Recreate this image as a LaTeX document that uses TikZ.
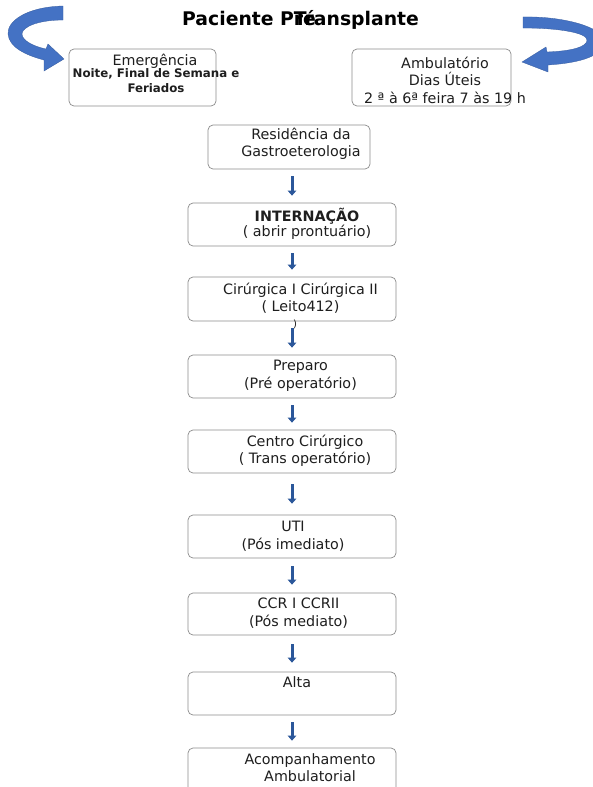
\documentclass[tikz,border=0pt]{standalone}
\usepackage{fontspec}
\setmainfont{DejaVu Sans}
\usetikzlibrary{arrows.meta,positioning,calc}
\definecolor{colborda}{HTML}{8C8C8C}
\definecolor{colseta}{HTML}{2B579A}
\definecolor{colcurva}{HTML}{4472C4}
\definecolor{coltexto}{HTML}{1E1E1E}
\newcommand{\corpo}{\fontsize{14.3}{17.5}\selectfont}

\begin{document}
\begin{tikzpicture}[x=1pt,y=-1pt,
  caixa/.style={draw=colborda,line width=0.7pt,rounded corners=5pt,fill=white,
    minimum width=208pt,minimum height=43pt,inner sep=0pt},
  txt/.style={font=\corpo,text=coltexto,align=center,inner sep=0pt},
  miudo/.style={font=\fontsize{11.8}{15}\selectfont\bfseries,text=coltexto,
    align=center,inner sep=0pt},
  titulo/.style={font=\fontsize{18.8}{22}\selectfont\bfseries,text=black,inner sep=0pt},
  seta/.style={-{Triangle[length=5pt,width=8.5pt]},line width=3pt,colseta,
    shorten <=7pt,shorten >=7pt},
  curva/.style={fill=colcurva,draw=colcurva!80!black,line width=0.3pt},
]
  \useasboundingbox (0,0) rectangle (593,787);
  \clip (0,0) rectangle (593,787);

  % titulo: as duas palavras ficam sobrepostas como no original
  \node[titulo,anchor=base west] (tit) at (182,25) {Paciente Pré};
  \node[titulo,anchor=base west] (tit2) at (182,25) {\phantom{Paciente P}Transplante};

  % setas curvas
  \path[curva] (63,6) .. controls (25,7) and (7,22) .. (8,34)
    .. controls (9,47) and (25,55) .. (44,60) -- (44,71) -- (64,59) -- (48,44)
    -- (46,49) .. controls (32,46) and (22,40) .. (22,34)
    .. controls (22,27) and (38,20) .. (63,20) -- cycle;
  \path[curva] (523,17) .. controls (565,16) and (604,28) .. (604,41)
    .. controls (604,56) and (580,63) .. (548,65) -- (548,72) -- (522,62) -- (546,47)
    -- (547,52) .. controls (572,51) and (587,47) .. (587,40)
    .. controls (587,33) and (560,28) .. (523,28) -- cycle;

  % caixas de entrada
  \node[caixa,minimum width=147pt,minimum height=57pt] (emer) at (142.5,77.5) {};
  \node[caixa,minimum width=159pt,minimum height=57pt] (amb) at (431.5,77.5) {};
  \node[txt] (emer-t) at (155,61) {Emergência};
  \node[miudo] (emer-d) at (156,80.5) {Noite, Final de Semana e\\Feriados};
  \node[txt] (amb-t) at (445,80) {Ambulatório\\Dias Úteis\\2 ª à 6ª feira 7 às 19 h};

  % fluxo principal
  \node[caixa,minimum width=162pt,minimum height=44pt] (res) at (289,147) {};
  \node[caixa] (int) at (292,224.5) {};
  \node[caixa,minimum height=44pt] (cir) at (292,299) {};
  \node[caixa] (prep) at (292,376.5) {};
  \node[caixa] (cen) at (292,451.5) {};
  \node[caixa] (uti) at (292,536.5) {};
  \node[caixa,minimum height=42pt] (ccr) at (292,614) {};
  \node[caixa] (alta) at (292,693.5) {};
  \node[caixa,minimum height=52pt] (acomp) at (292,774) {};

  \node[txt] (res-t) at (301,144) {Residência da\\Gastroeterologia};
  \node[txt,font=\fontsize{14.3}{15}\selectfont] (int-t) at (307,224)
        {\textbf{INTERNAÇÃO}\\( abrir prontuário)};
  \node[txt] (cir-t) at (300.5,298) {Cirúrgica I Cirúrgica II\\( Leito412)};
  \node[txt,font=\fontsize{10}{10}\selectfont] (cir-r) at (295,324) {)};
  \node[txt] (prep-t) at (300.5,376) {Preparo\\(Pré operatório)};
  \node[txt] (cen-t) at (305,451) {Centro Cirúrgico\\( Trans operatório)};
  \node[txt] (uti-t) at (293,536) {UTI\\(Pós imediato)};
  \node[txt] (ccr-t) at (298.5,613) {CCR I CCRII\\(Pós mediato)};
  \node[txt] (alta-t) at (297,682) {Alta};
  \node[txt] (acomp-t) at (310,767.5) {Acompanhamento\\Ambulatorial};

  \draw[seta] (res.south -| int.north) -- (int.north);
  \draw[seta] (int) -- (cir);
  \draw[seta] (cir) -- (prep);
  \draw[seta] (prep) -- (cen);
  \draw[seta,shorten <=11pt,shorten >=11pt] (cen) -- (uti);
  \draw[seta,shorten <=8pt,shorten >=8pt] (uti) -- (ccr);
  \draw[seta,shorten <=9pt,shorten >=9pt] (ccr) -- (alta);
  \draw[seta] (alta) -- (acomp);
\end{tikzpicture}
\end{document}
